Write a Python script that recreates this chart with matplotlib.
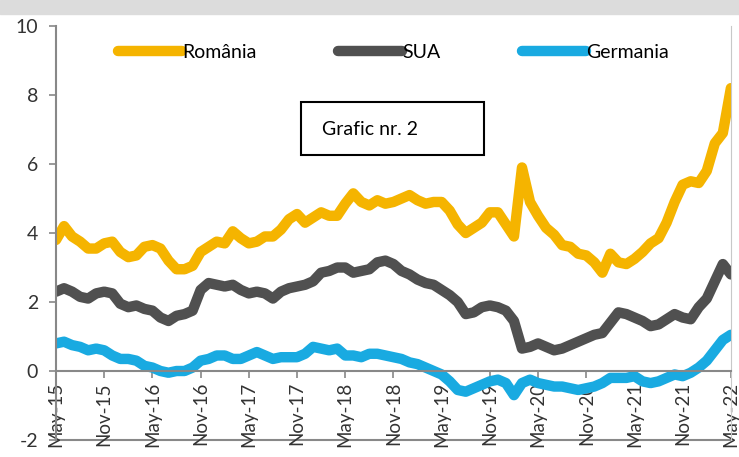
import matplotlib
matplotlib.use("Agg")
import matplotlib.pyplot as plt
from matplotlib.patches import Rectangle
import numpy as np

# monthly readings, May-15 .. May-22 (85 points)
romania = [3.8, 4.2, 3.9, 3.75, 3.55, 3.55, 3.7, 3.75, 3.45, 3.3,
           3.35, 3.6, 3.65, 3.55, 3.2, 2.95, 2.95, 3.05, 3.45, 3.6,
           3.75, 3.7, 4.05, 3.85, 3.7, 3.75, 3.9, 3.9, 4.1, 4.4,
           4.55, 4.3, 4.45, 4.6, 4.5, 4.5, 4.85, 5.15, 4.9, 4.8,
           4.95, 4.85, 4.9, 5.0, 5.1, 4.95, 4.85, 4.9, 4.9, 4.65,
           4.25, 4.0, 4.15, 4.3, 4.6, 4.6, 4.25, 3.9, 5.9, 4.9,
           4.5, 4.15, 3.95, 3.65, 3.6, 3.4, 3.35, 3.15, 2.85, 3.4,
           3.15, 3.1, 3.25, 3.45, 3.7, 3.85, 4.3, 4.9, 5.4, 5.5,
           5.45, 5.8, 6.6, 6.9, 8.2]
sua = [2.3, 2.4, 2.3, 2.15, 2.1, 2.25, 2.3, 2.25, 1.95, 1.85,
       1.9, 1.8, 1.75, 1.55, 1.45, 1.6, 1.65, 1.75, 2.35, 2.55,
       2.5, 2.45, 2.5, 2.35, 2.25, 2.3, 2.25, 2.1, 2.3, 2.4,
       2.45, 2.5, 2.6, 2.85, 2.9, 3.0, 3.0, 2.85, 2.9, 2.95,
       3.15, 3.2, 3.1, 2.9, 2.8, 2.65, 2.55, 2.5, 2.35, 2.2,
       2.0, 1.65, 1.7, 1.85, 1.9, 1.85, 1.75, 1.45, 0.65, 0.7,
       0.8, 0.7, 0.6, 0.65, 0.75, 0.85, 0.95, 1.05, 1.1, 1.4,
       1.7, 1.65, 1.55, 1.45, 1.3, 1.35, 1.5, 1.65, 1.55, 1.5,
       1.85, 2.1, 2.6, 3.1, 2.8]
germania = [0.8, 0.85, 0.75, 0.7, 0.6, 0.65, 0.6, 0.45, 0.35, 0.35,
            0.3, 0.15, 0.1, 0.0, -0.05, 0.0, 0.0, 0.1, 0.3, 0.35,
            0.45, 0.45, 0.35, 0.35, 0.45, 0.55, 0.45, 0.35, 0.4, 0.4,
            0.4, 0.5, 0.7, 0.65, 0.6, 0.65, 0.45, 0.45, 0.4, 0.5,
            0.5, 0.45, 0.4, 0.35, 0.25, 0.2, 0.1, 0.0, -0.1, -0.3,
            -0.55, -0.6, -0.5, -0.4, -0.3, -0.25, -0.35, -0.7, -0.35, -0.25,
            -0.35, -0.4, -0.45, -0.45, -0.5, -0.55, -0.5, -0.45, -0.35, -0.2,
            -0.2, -0.2, -0.15, -0.3, -0.35, -0.3, -0.2, -0.1, -0.15, -0.05,
            0.1, 0.3, 0.6, 0.9, 1.05]
tick_labels = ["May-15", "Nov-15", "May-16", "Nov-16", "May-17", "Nov-17",
               "May-18", "Nov-18", "May-19", "Nov-19", "May-20", "Nov-20",
               "May-21", "Nov-21", "May-22"]
series_names = ["România", "SUA", "Germania"]
colors = ["#F5B400", "#505050", "#19AAE1"]

plt.rcParams['font.family'] = ['Lato', 'DejaVu Sans']
plt.rcParams['axes.unicode_minus'] = False

fig = plt.figure(figsize=(7.39, 4.57), dpi=100)
fig.patches.append(Rectangle((0, 0.97), 1, 0.03, transform=fig.transFigure,
                             color="#DCDCDC", zorder=0))
ax = fig.add_axes([0.0758, 0.0372, 0.9132, 0.9058])

months = np.arange(len(romania))
for vals, name, c in zip([romania, sua, germania], series_names, colors):
    ax.plot(months, vals, color=c, lw=7.5, label=name,
            solid_capstyle='round', solid_joinstyle='round')

# x axis sits on the zero line, the -2 line is drawn separately
ax.spines['top'].set_visible(False)
ax.spines['right'].set_color("#C8C8C8")
ax.spines['left'].set_color("#888888")
ax.spines['left'].set_linewidth(1.5)
ax.spines['bottom'].set_position(('data', 0))
ax.spines['bottom'].set_color("#888888")
ax.spines['bottom'].set_linewidth(1.5)
ax.axhline(-2, color="#888888", lw=1.5, clip_on=False, zorder=0)

ax.set_xlim(0, len(romania) - 1)
ax.set_ylim(-2, 10)
ax.set_yticks([-2, 0, 2, 4, 6, 8, 10])
ax.set_xticks(np.arange(0, len(romania), 6))
ax.set_xticklabels(tick_labels, rotation=90, fontsize=13.5, color="#333333")
ax.tick_params(axis='y', labelsize=14, colors="#333333", length=5, width=1.2,
               color="#888888", pad=8)
ax.tick_params(axis='x', length=5, width=1.2, color="#888888", pad=3)

ax.legend(loc='upper center', ncol=3, frameon=False, fontsize=14,
          handlelength=3.3, handletextpad=0.0, columnspacing=4.2,
          bbox_to_anchor=(0.5, 1.0))

fig.patches.append(Rectangle((301 / 739, 1 - 155 / 457), 183 / 739, 53 / 457,
                             transform=fig.transFigure, fill=False,
                             edgecolor="black", lw=1.5, zorder=5))
fig.text(322 / 739, 1 - 130 / 457, "Grafic nr. 2", fontsize=14,
         va='center', ha='left', color="black")

fig.savefig("out.png", dpi=100)
